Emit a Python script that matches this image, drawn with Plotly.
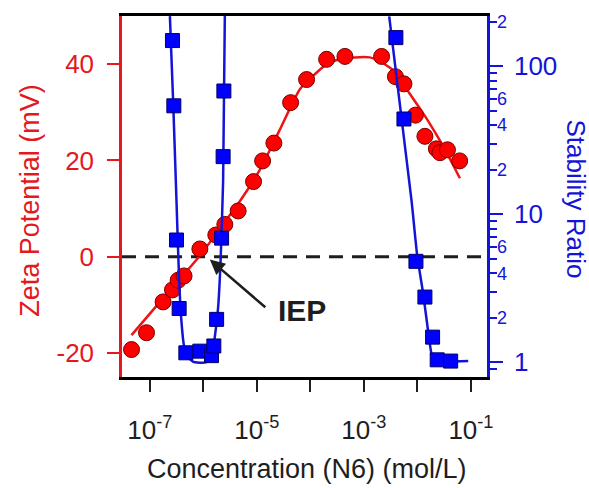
import plotly.graph_objects as go

# ---------------- data ----------------
# Zeta potential (red circles)
zeta_conc = [4.55e-8, 8.67e-8, 1.77e-7, 2.65e-7, 3.38e-7, 4.36e-7, 8.61e-7, 1.71e-6,
             2.52e-6, 4.47e-6, 8.67e-6, 1.28e-5, 2.08e-5, 4.27e-5, 8.49e-5, 2.01e-4,
             4.42e-4, 2.14e-3, 3.88e-3, 5.60e-3, 9.18e-3, 1.38e-2, 2.26e-2, 2.64e-2,
             3.64e-2, 6.15e-2]
zeta_mv = [-19.3, -15.8, -9.4, -6.9, -4.9, -4.0, 1.6, 4.5,
           6.7, 9.5, 15.6, 19.9, 23.6, 32.0, 36.8, 41.0,
           41.6, 41.6, 37.4, 35.9, 29.4, 25.0, 22.4, 21.6,
           22.2, 19.9]

# Zeta potential fit curve (red line)
zfit_conc = [4.55e-8, 1.91e-7, 8.61e-7, 2.03e-6, 4.81e-6, 1.14e-5, 2.69e-5, 6.37e-5,
             1.21e-4, 2.03e-4, 3.56e-4, 6.79e-4, 1.29e-3, 1.99e-3, 3.79e-3, 7.24e-3,
             1.11e-2, 1.71e-2, 2.64e-2, 4.05e-2, 6.22e-2]
zfit_mv = [-16.3, -8.2, 0.2, 5.8, 11.5, 18.1, 26.4, 34.8,
           37.9, 40.0, 41.0, 41.4, 41.4, 40.6, 38.4, 33.8,
           30.8, 27.6, 24.1, 20.3, 16.3]

# Stability ratio (blue squares)
sr_conc = [2.65e-7, 2.81e-7, 3.15e-7, 3.53e-7, 4.71e-7, 8.61e-7, 1.42e-6, 1.57e-6,
           1.77e-6, 2.19e-6, 2.34e-6, 2.42e-6,
           3.96e-3, 5.60e-3, 9.38e-3, 1.38e-2, 1.92e-2, 2.34e-2, 4.18e-2]
sr_val = [149, 54, 6.7, 2.31, 1.16, 1.19, 1.11, 1.29,
          1.95, 6.9, 24.5, 68,
          156, 44, 4.81, 2.76, 1.48, 1.04, 1.02]

# Stability ratio fit curves (blue lines)
sfit1_conc = [2.37e-7, 2.73e-7, 3.15e-7, 3.53e-7, 3.88e-7, 4.33e-7, 5.13e-7, 6.37e-7,
              8.61e-7, 1.11e-6, 1.32e-6, 1.51e-6, 1.64e-6, 1.89e-6, 2.09e-6, 2.34e-6, 2.52e-6]
sfit1_val = [218, 57.2, 12.25, 3.57, 1.93, 1.31, 1.09, 1.01,
             0.995, 1.0, 1.04, 1.22, 1.49, 2.36, 4.64, 16.7, 218]
sfit2_conc = [2.97e-3, 7.78e-3, 9.91e-3, 1.28e-2, 1.59e-2, 1.84e-2, 2.12e-2, 8.89e-2]
sfit2_val = [217, 12.25, 5.25, 2.91, 1.61, 1.13, 1.02, 1.02]

# ticks
x_tickvals = [1e-7, 1e-6, 1e-5, 1e-4, 1e-3, 1e-2, 1e-1]
x_ticktext = ["10<sup>-7</sup>", "", "10<sup>-5</sup>", "", "10<sup>-3</sup>", "", "10<sup>-1</sup>"]
y_tickvals = [-20, 0, 20, 40]
y_ticktext = ["-20", "0", "20", "40"]
y2_major = [1, 10, 100]
y2_major_text = ["1", "10", "100"]
y2_minor = [0.9, 2, 3, 4, 5, 6, 7, 8, 9, 20, 30, 40, 50, 60, 70, 80, 90, 200]
y3_vals = [2, 4, 6, 20, 40, 60, 200]
y3_text = ["2", "4", "6", "2", "4", "6", "2"]

RED = "#e4181d"
BLUE = "#1414d8"
DARK = "#1e1e1e"
FONT = "Liberation Sans, Arial, sans-serif"

fig = go.Figure()

fig.add_trace(go.Scatter(x=sfit1_conc, y=sfit1_val, yaxis="y2", mode="lines",
                         line=dict(color=BLUE, width=2.5, shape="spline", smoothing=0.5),
                         hoverinfo="skip"))
fig.add_trace(go.Scatter(x=sfit2_conc, y=sfit2_val, yaxis="y2", mode="lines",
                         line=dict(color=BLUE, width=2.5, shape="spline", smoothing=0.5),
                         hoverinfo="skip"))
fig.add_trace(go.Scatter(x=sr_conc, y=sr_val, yaxis="y2", mode="markers",
                         marker=dict(symbol="square", size=14, color="#0000ff",
                                     line=dict(color="#00006e", width=1))))
# invisible trace so the label-only overlay axis is drawn
fig.add_trace(go.Scatter(x=sr_conc, y=sr_val, yaxis="y3", mode="markers",
                         marker=dict(opacity=0), hoverinfo="skip"))
fig.add_trace(go.Scatter(x=zfit_conc, y=zfit_mv, mode="lines",
                         line=dict(color="#ee1414", width=2.5, shape="spline", smoothing=0.6),
                         hoverinfo="skip"))
fig.add_trace(go.Scatter(x=zeta_conc, y=zeta_mv, mode="markers",
                         marker=dict(symbol="circle", size=16, color="#ff0000",
                                     line=dict(color="#7a0000", width=1))))

fig.add_hline(y=0, line=dict(color=DARK, width=3, dash="14px,9px"), layer="below")

fig.update_layout(
    width=589, height=488,
    margin=dict(l=122, r=102, t=13, b=111),
    paper_bgcolor="white", plot_bgcolor="white",
    showlegend=False,
    font=dict(family=FONT),
    xaxis=dict(type="log", range=[-7.52, -0.70], showline=True, linecolor="black",
               linewidth=2.5, mirror=True, ticks="outside", ticklen=12, tickwidth=2,
               tickcolor=DARK, tickvals=x_tickvals, ticktext=x_ticktext,
               tickfont=dict(size=26, color=DARK, family=FONT),
               showgrid=False, zeroline=False, ticklabelstandoff=16),
    yaxis=dict(range=[-25, 50], showline=True, linecolor=RED, linewidth=2.5,
               ticks="outside", ticklen=12, tickwidth=2, tickcolor=RED,
               tickvals=y_tickvals, ticktext=y_ticktext,
               tickfont=dict(size=26, color=RED, family=FONT),
               showgrid=False, zeroline=False, ticklabelstandoff=8),
    yaxis2=dict(type="log", range=[-0.099, 2.339], overlaying="y", side="right",
                anchor="x", showline=True, linecolor=BLUE, linewidth=2.5,
                ticks="outside", ticklen=13, tickwidth=2, tickcolor=BLUE,
                tickvals=y2_major, ticktext=y2_major_text,
                tickfont=dict(size=26, color=BLUE, family=FONT),
                minor=dict(ticks="outside", ticklen=7, tickwidth=2, tickcolor=BLUE,
                           tickmode="array", tickvals=y2_minor),
                showgrid=False, zeroline=False, ticklabelstandoff=6),
    yaxis3=dict(type="log", range=[-0.099, 2.339], overlaying="y", side="right",
                anchor="x", showline=False, ticks="", tickvals=y3_vals, ticktext=y3_text,
                tickfont=dict(size=18, color=BLUE, family=FONT),
                showgrid=False, zeroline=False, ticklabelstandoff=9),
)

fig.add_annotation(text="Zeta Potential (mV)", xref="paper", yref="paper",
                   x=-0.253, y=0.49, textangle=-90, showarrow=False,
                   xanchor="center", yanchor="middle",
                   font=dict(size=27, color=RED, family=FONT))
fig.add_annotation(text="Stability Ratio", xref="paper", yref="paper",
                   x=1.243, y=0.4925, textangle=90, showarrow=False,
                   xanchor="center", yanchor="middle",
                   font=dict(size=26, color=BLUE, family=FONT))
fig.add_annotation(text="Concentration (N6) (mol/L)", xref="paper", yref="paper",
                   x=0.508, y=-0.254, showarrow=False, xanchor="center", yanchor="middle",
                   font=dict(size=27, color=DARK, family=FONT))
fig.add_annotation(text="<b>IEP</b>", xref="paper", yref="paper",
                   x=0.493, y=0.185, showarrow=False, xanchor="center", yanchor="middle",
                   font=dict(size=30, color=DARK, family=FONT))
fig.add_annotation(text="", x=-5.879, y=-0.6, xref="x", yref="y", showarrow=True,
                   ax=57, ay=49, arrowhead=2, arrowsize=1.2, arrowwidth=2.5,
                   arrowcolor=DARK)

fig.write_html("out.html")
